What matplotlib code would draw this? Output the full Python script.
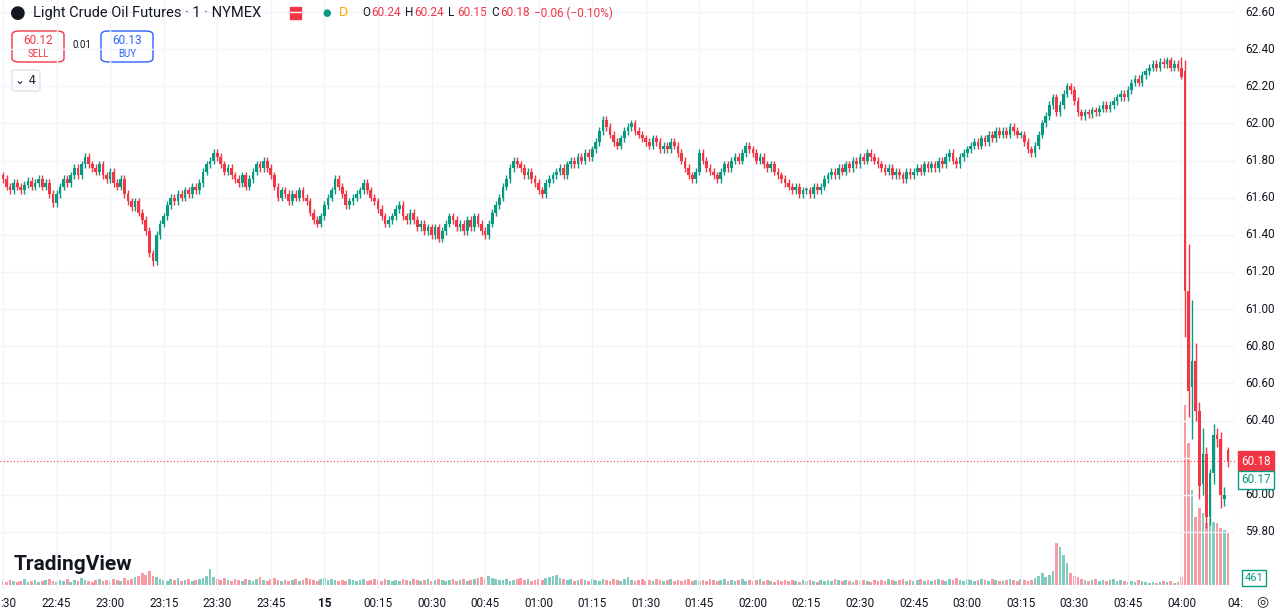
import matplotlib.pyplot as plt
from matplotlib.patches import FancyBboxPatch

# closes per 1-minute candle, 22:30 -> 03:59
closes_main = [
    61.70, 61.66, 61.64, 61.68, 61.66, 61.64, 61.67, 61.69, 61.66, 61.68,
    61.70, 61.66, 61.68, 61.62, 61.57, 61.62, 61.66, 61.70, 61.68, 61.72,
    61.76, 61.72, 61.78, 61.82, 61.78, 61.76, 61.74, 61.78, 61.72, 61.70,
    61.74, 61.68, 61.66, 61.70, 61.62, 61.58, 61.55, 61.58, 61.52, 61.48,
    61.42, 61.30, 61.26, 61.40, 61.46, 61.50, 61.56, 61.60, 61.58, 61.62,
    61.60, 61.64, 61.62, 61.66, 61.64, 61.68, 61.74, 61.78, 61.80, 61.84,
    61.82, 61.78, 61.74, 61.76, 61.72, 61.70, 61.68, 61.72, 61.66, 61.70,
    61.74, 61.78, 61.76, 61.80, 61.76, 61.72, 61.66, 61.60, 61.64, 61.62,
    61.58, 61.62, 61.60, 61.64, 61.60, 61.58, 61.52, 61.48, 61.46, 61.50,
    61.56, 61.60, 61.64, 61.70, 61.66, 61.62, 61.56, 61.58, 61.60, 61.62,
    61.64, 61.68, 61.64, 61.60, 61.58, 61.54, 61.50, 61.46, 61.48, 61.50,
    61.54, 61.56, 61.50, 61.48, 61.52, 61.48, 61.44, 61.46, 61.42, 61.44,
    61.40, 61.44, 61.38, 61.42, 61.46, 61.50, 61.48, 61.44, 61.46, 61.42,
    61.48, 61.44, 61.50, 61.46, 61.42, 61.40, 61.46, 61.52, 61.56, 61.60,
    61.66, 61.70, 61.76, 61.80, 61.78, 61.76, 61.72, 61.74, 61.70, 61.68,
    61.64, 61.62, 61.68, 61.70, 61.72, 61.74, 61.76, 61.72, 61.78, 61.80,
    61.78, 61.82, 61.80, 61.84, 61.82, 61.86, 61.90, 61.96, 62.02, 61.98,
    61.94, 61.90, 61.88, 61.92, 61.96, 61.98, 62.00, 61.96, 61.94, 61.92,
    61.90, 61.88, 61.92, 61.90, 61.86, 61.88, 61.86, 61.90, 61.88, 61.84,
    61.80, 61.76, 61.72, 61.70, 61.74, 61.84, 61.80, 61.76, 61.74, 61.72,
    61.70, 61.74, 61.78, 61.76, 61.80, 61.82, 61.80, 61.84, 61.88, 61.86,
    61.84, 61.80, 61.82, 61.78, 61.76, 61.78, 61.74, 61.72, 61.70, 61.68,
    61.66, 61.64, 61.66, 61.62, 61.64, 61.64, 61.62, 61.66, 61.64, 61.66,
    61.70, 61.72, 61.74, 61.72, 61.76, 61.74, 61.78, 61.76, 61.80, 61.78,
    61.82, 61.80, 61.84, 61.82, 61.80, 61.78, 61.76, 61.74, 61.76, 61.72,
    61.74, 61.72, 61.70, 61.74, 61.72, 61.74, 61.76, 61.74, 61.78, 61.76,
    61.78, 61.76, 61.80, 61.78, 61.82, 61.84, 61.80, 61.78, 61.82, 61.84,
    61.86, 61.88, 61.90, 61.88, 61.92, 61.90, 61.94, 61.92, 61.96, 61.94,
    61.96, 61.94, 61.98, 61.96, 61.94, 61.94, 61.90, 61.86, 61.84, 61.88,
    61.94, 62.00, 62.04, 62.10, 62.14, 62.06, 62.10, 62.16, 62.20, 62.18,
    62.12, 62.06, 62.04, 62.06, 62.05, 62.07, 62.06, 62.08, 62.10, 62.08,
    62.10, 62.12, 62.14, 62.16, 62.14, 62.18, 62.22, 62.24, 62.22, 62.26,
    62.28, 62.30, 62.32, 62.30, 62.33, 62.32, 62.34, 62.30, 62.32, 62.30,
]
# the crash, 04:00 -> 04:13 (explicit OHLC)
end_open = [62.30, 62.28, 61.10, 60.58, 60.72, 60.45, 60.06, 60.22, 59.88, 60.12, 60.32, 60.30, 59.98, 60.24]
end_high = [62.36, 62.34, 61.35, 61.05, 60.82, 60.50, 60.36, 60.26, 60.14, 60.38, 60.36, 60.34, 60.04, 60.26]
end_low = [62.24, 60.85, 60.42, 60.30, 60.40, 59.98, 60.00, 59.82, 59.84, 60.06, 60.26, 59.93, 59.94, 60.15]
end_close = [62.25, 61.10, 60.56, 60.72, 60.45, 60.05, 60.22, 59.88, 60.12, 60.32, 60.30, 60.00, 60.00, 60.18]

# volume bar heights (screen-scaled), 22:30 -> 03:59
vol_main = [
    4, 3, 5, 4, 3, 4, 6, 3, 4, 5, 3, 4, 5, 6, 4, 3, 5, 4, 6, 3,
    5, 4, 7, 5, 4, 3, 5, 6, 4, 5, 4, 6, 5, 4, 7, 5, 6, 8, 9, 12,
    10, 14, 9, 8, 6, 5, 4, 6, 5, 7, 4, 5, 6, 4, 5, 6, 7, 9, 16, 8,
    6, 5, 7, 5, 4, 6, 5, 4, 6, 5, 4, 6, 8, 5, 4, 6, 7, 5, 4, 5,
    4, 5, 6, 4, 5, 7, 6, 5, 4, 6, 7, 5, 6, 5, 4, 5, 4, 6, 5, 4,
    5, 6, 4, 5, 6, 5, 4, 6, 5, 4, 5, 4, 6, 5, 4, 6, 5, 4, 5, 6,
    4, 5, 6, 5, 4, 5, 6, 4, 5, 6, 4, 5, 6, 7, 8, 6, 9, 7, 6, 5,
    5, 6, 4, 5, 6, 7, 5, 6, 4, 5, 6, 5, 7, 8, 9, 10, 7, 6, 5, 6,
    4, 5, 6, 5, 4, 6, 5, 4, 6, 5, 4, 6, 5, 4, 6, 8, 5, 4, 5, 6,
    4, 5, 4, 6, 5, 4, 5, 6, 4, 5, 4, 5, 6, 4, 5, 4, 5, 4, 6, 5,
    4, 5, 6, 4, 5, 4, 5, 6, 4, 5, 4, 5, 6, 4, 5, 4, 3, 5, 4, 5,
    4, 5, 4, 3, 5, 4, 5, 4, 3, 5, 4, 5, 4, 6, 5, 4, 5, 4, 3, 5,
    4, 5, 4, 3, 5, 4, 5, 4, 6, 5, 4, 5, 6, 4, 5, 4, 5, 6, 4, 5,
    4, 5, 6, 5, 4, 6, 5, 7, 5, 4, 6, 5, 4, 5, 6, 5, 4, 6, 5, 4,
    4, 5, 6, 5, 4, 6, 5, 4, 5, 7, 9, 12, 8, 10, 14, 42, 38, 30, 22, 12,
    9, 8, 6, 5, 4, 5, 6, 4, 5, 4, 5, 6, 4, 5, 4, 3, 4, 3, 5, 4,
    3, 2, 3, 2, 3, 4, 3, 4, 2, 3,
]
vol_end = [8, 180, 142, 95, 68, 77, 72, 62, 67, 63, 62, 57, 55, 52]

tick_labels = [":30", "22:45", "23:00", "23:15", "23:30", "23:45", "15", "00:15", "00:30", "00:45",
               "01:00", "01:15", "01:30", "01:45", "02:00", "02:15", "02:30", "02:45", "03:00",
               "03:15", "03:30", "03:45", "04:00", "04:"]
price_ticks = [62.60, 62.40, 62.20, 62.00, 61.80, 61.60, 61.40, 61.20, 61.00, 60.80,
               60.60, 60.40, 60.20, 60.00, 59.80]

GREEN = "#089981"
RED = "#f23645"

opens = [closes_main[0] + 0.02] + closes_main[:-1] + end_open
closes = closes_main + end_close
n_main = len(closes_main)
highs = [max(o, c) + 0.02 for o, c in zip(opens[:n_main], closes_main)] + end_high
lows = [min(o, c) - 0.02 for o, c in zip(opens[:n_main], closes_main)] + end_low
lows[42] = 61.23  # long wick at 23:12
vols = vol_main + vol_end
idx = list(range(len(closes)))

fig = plt.figure(figsize=(12.8, 6.13), dpi=100)
W, H = 1280, 613
ax = fig.add_axes([0, 23 / H, 1235 / W, 590 / H])
vax = ax.twinx()

px = 3.6  # pixels per minute
ax.set_xlim(-3 / px, 1232 / px)
ax.set_ylim(62.6 - 578 / 185.7, 62.6 + 12 / 185.7)
vax.set_ylim(-5, 585)

for i in idx:
    col = GREEN if closes[i] >= opens[i] else RED
    ax.vlines(i, lows[i], highs[i], color=col, lw=1, zorder=3)
    lo, hi = sorted([opens[i], closes[i]])
    ax.bar(i, max(hi - lo, 0.006), bottom=lo, width=0.75, color=col, zorder=3, lw=0)
    vax.bar(i, vols[i], width=0.75, color=col, alpha=0.5, lw=0, zorder=1)

vax.set_zorder(0)
ax.set_zorder(1)
ax.patch.set_visible(False)

ax.set_yticks(price_ticks)
ax.set_xticks([15 * k for k in range(len(tick_labels))])
ax.grid(True, color="#f0f3fa", lw=1, zorder=0)
ax.tick_params(length=0, labelleft=False, labelbottom=False, labelright=False)
vax.tick_params(length=0, labelright=False)
vax.set_yticks([])
for s in list(ax.spines.values()) + list(vax.spines.values()):
    s.set_visible(False)

for k, lab in enumerate(tick_labels):
    xpos, ha = (15 * k, "center") if k else (-0.7, "left")
    ax.text(xpos, -0.012, lab, transform=ax.get_xaxis_transform(), ha=ha, va="top",
            fontsize=8.5, color="#131722", fontweight="bold" if lab == "15" else "normal",
            family="Roboto", clip_on=False)
last = end_close[-1]
for p in price_ticks:
    if abs(p - last) < 0.05:
        continue  # hidden behind the last-price tag
    ax.text(1.008, p, f"{p:.2f}", transform=ax.get_yaxis_transform(), ha="left", va="center",
            fontsize=8.5, color="#131722", family="Roboto")

ax.axhline(last, color=RED, lw=0.8, ls=(0, (1, 2)), zorder=2)
ax.text(1.005, last, f"{last:.2f}", transform=ax.get_yaxis_transform(), ha="left", va="center",
        fontsize=8.5, color="white", family="Roboto",
        bbox=dict(boxstyle="square,pad=0.3", fc=RED, ec=RED))
ax.text(1.005, last - 0.1, "60.17", transform=ax.get_yaxis_transform(), ha="left", va="center",
        fontsize=8.5, color=GREEN, family="Roboto",
        bbox=dict(boxstyle="square,pad=0.25", fc="white", ec=GREEN))
fig.text(1254 / W, 1 - 578 / H, "461", ha="center", va="center", fontsize=8, color=GREEN,
         family="Roboto", bbox=dict(boxstyle="square,pad=0.25", fc="white", ec=GREEN))

# header
fig.text(18 / W, 1 - 13 / H, "●", ha="center", va="center", fontsize=13, color="#131722")
fig.text(33 / W, 1 - 13 / H, "Light Crude Oil Futures · 1 · NYMEX", ha="left", va="center",
         fontsize=10.5, color="#131722", family="Roboto")
fig.add_artist(plt.Rectangle((290 / W, 1 - 19 / H), 11 / W, 12 / H, color=RED, transform=fig.transFigure))
fig.text(327 / W, 1 - 13 / H, "●", ha="center", va="center", fontsize=7, color=GREEN)
fig.text(343 / W, 1 - 13 / H, "D", ha="center", va="center", fontsize=8.5, color="#f7a600")
x0 = 362
for lab, val in [("O", "60.24"), ("H", "60.24"), ("L", "60.15"), ("C", "60.18")]:
    fig.text(x0 / W, 1 - 13 / H, lab, ha="left", va="center", fontsize=8.5, color="#131722", family="Roboto")
    fig.text((x0 + 9) / W, 1 - 13 / H, val, ha="left", va="center", fontsize=8.5, color=RED, family="Roboto")
    x0 += 43
fig.text(x0 / W, 1 - 13 / H, "−0.06 (−0.10%)", ha="left", va="center", fontsize=8.5, color=RED, family="Roboto")

for (bx, txt, sub, col) in [(12, "60.12", "SELL", RED), (101, "60.13", "BUY", "#2962ff")]:
    fig.add_artist(FancyBboxPatch((bx / W, 1 - 62 / H), 52 / W, 31 / H,
                                  boxstyle="round,pad=0,rounding_size=0.006", fc="white", ec=col, lw=1,
                                  transform=fig.transFigure))
    fig.text((bx + 26) / W, 1 - 40 / H, txt, ha="center", va="center", fontsize=8.5, color=col, family="Roboto")
    fig.text((bx + 26) / W, 1 - 54 / H, sub, ha="center", va="center", fontsize=7, color=col, family="Roboto")
fig.text(82 / W, 1 - 45 / H, "0.01", ha="center", va="center", fontsize=7, color="#131722", family="Roboto")
fig.add_artist(FancyBboxPatch((12 / W, 1 - 91 / H), 28 / W, 21 / H,
                              boxstyle="round,pad=0,rounding_size=0.003", fc="white", ec="#e0e3eb", lw=1,
                              transform=fig.transFigure))
fig.text(26 / W, 1 - 80 / H, "⌄ 4", ha="center", va="center", fontsize=8.5, color="#131722", family="DejaVu Sans")

fig.text(14 / W, 1 - 565 / H, "TradingView", ha="left", va="center", fontsize=15, fontweight="bold",
         color="#131722", family="Roboto")
fig.text(1262 / W, 1 - 601 / H, "◎", ha="center", va="center", fontsize=10, color="#131722", family="DejaVu Sans")

fig.savefig("out.png", dpi=100, facecolor="white")
